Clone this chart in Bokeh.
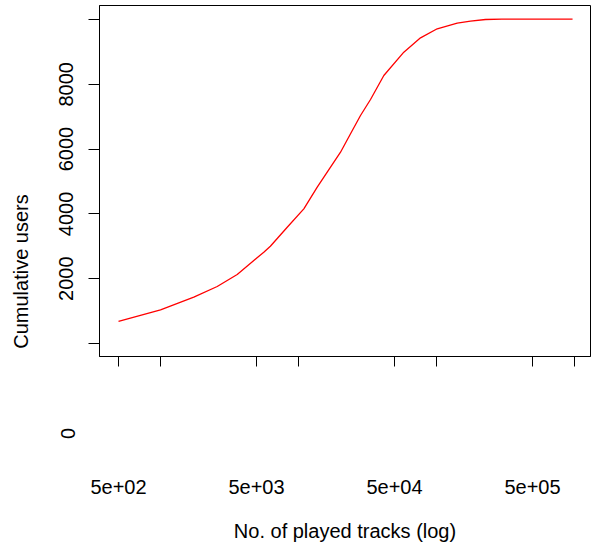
import math
from bokeh.plotting import figure
from bokeh.models import Range1d, FixedTicker, Label
from bokeh.embed import file_html
from bokeh.resources import INLINE

# ---- data ----
tracks = [500, 1008, 1756, 2595, 3623, 4780, 5645, 6300, 8346, 11010,
          13770, 17190, 20310, 24000, 28350, 33500, 41830, 58400, 77150, 101950,
          142350, 177700, 228200, 300000, 975000]
users = [680, 1040, 1429, 1759, 2130, 2562, 2818, 3003, 3589, 4157,
         4824, 5441, 5904, 6472, 7037, 7531, 8272, 8991, 9435, 9713,
         9886, 9947, 10000, 10010, 10010]

x_ticks = [500, 1000, 5000, 10000, 50000, 100000, 500000, 1000000]
x_tick_labels = {500: "5e+02", 5000: "5e+03", 50000: "5e+04", 500000: "5e+05"}
y_ticks = [0, 2000, 4000, 6000, 8000, 10000]
y_tick_labels = {2000: "2000", 4000: "4000", 6000: "6000", 8000: "8000"}

FONT = "Liberation Sans"

# ---- geometry ----
W, H = 591, 548
FL, FR, FT, FB = 99, 590, 5, 356          # frame edges on canvas
X0, X1 = 364.1, 1.3155e6
Y0, Y1 = -401.2, 10432.0

p = figure(width=W, height=H, x_axis_type="log",
           x_range=Range1d(X0, X1), y_range=Range1d(Y0, Y1),
           output_backend="svg", toolbar_location=None,
           min_border_left=FL, min_border_right=W - FR, min_border_top=FT,
           min_border_bottom=H - FB)

p.background_fill_color = "white"
p.border_fill_color = "white"
p.outline_line_color = "black"
p.outline_line_width = 1
p.outline_line_alpha = 1
p.xgrid.visible = False
p.ygrid.visible = False

p.line(tracks, users, line_color="red", line_width=1.3)

xa = p.xaxis[0]
xa.ticker = FixedTicker(ticks=x_ticks, minor_ticks=[])
ovx = {t: "" for t in x_ticks}
ovx.update(x_tick_labels)
xa.major_label_overrides = ovx
xa.major_tick_out = 10
xa.major_tick_in = 0
xa.minor_tick_line_color = None
xa.major_tick_line_color = "black"
xa.axis_line_color = "black"
xa.major_label_standoff = 113
xa.major_label_text_font = FONT
xa.major_label_text_font_size = "20px"
xa.major_label_text_color = "black"
xa.axis_label = "No. of played tracks (log)"
xa.axis_label_standoff = 23
xa.axis_label_text_font = FONT
xa.axis_label_text_font_size = "20px"
xa.axis_label_text_font_style = "normal"
xa.axis_label_text_color = "black"

ya = p.yaxis[0]
ya.ticker = FixedTicker(ticks=y_ticks, minor_ticks=[])
ov = {t: "" for t in y_ticks}
ov.update(y_tick_labels)
ya.major_label_overrides = ov
ya.major_tick_out = 11
ya.major_tick_in = 0
ya.minor_tick_line_color = None
ya.major_tick_line_color = "black"
ya.axis_line_color = "black"
ya.major_label_orientation = "vertical"
ya.major_label_standoff = 15
ya.major_label_text_font = FONT
ya.major_label_text_font_size = "20px"
ya.major_label_text_color = "black"

common = dict(text_font=FONT, text_font_size="20px", text_color="black",
              x_units="canvas", y_units="canvas")

# displaced "0" tick label and the y axis title, placed in the left panel
p.add_layout(Label(x=67.5, y=433, text="0", angle=math.pi / 2,
                   text_align="center", text_baseline="middle", **common), "left")
p.add_layout(Label(x=20.5, y=271, text="Cumulative users", angle=math.pi / 2,
                   text_align="center", text_baseline="middle", **common), "left")

open("out.html", "w").write(file_html(p, INLINE))
